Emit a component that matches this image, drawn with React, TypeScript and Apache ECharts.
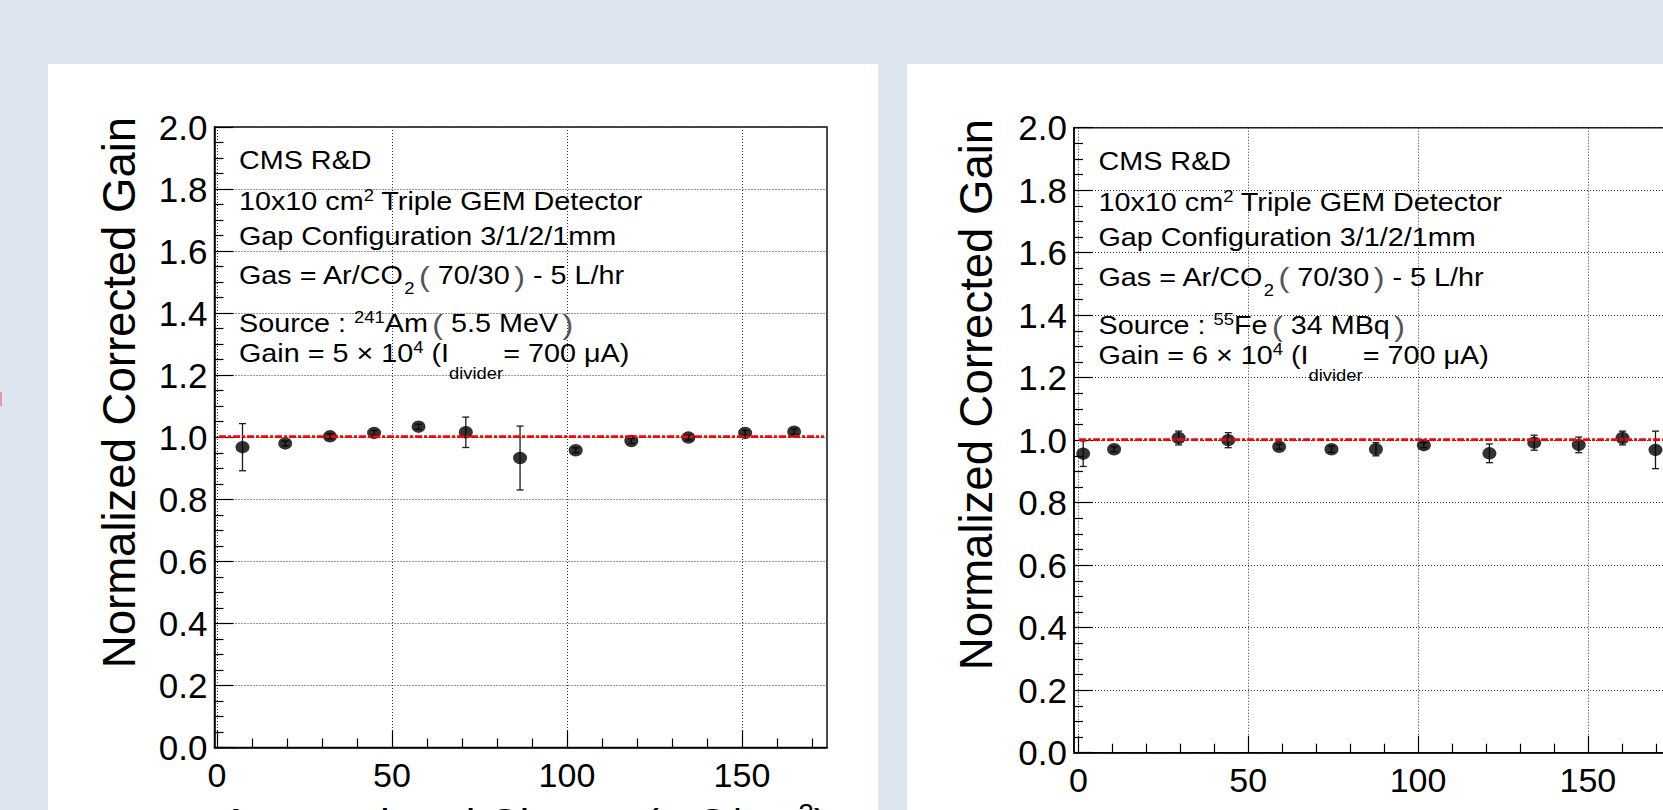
import React, { useEffect, useRef } from "react";
import * as echarts from "echarts";

// ---------------- data ----------------
const yAxisTitle = "Normalized Corrected Gain";
const xAxisTitleMain = "Accumulated Charge (mC/cm";
const xAxisTitleSup = "2";
const xAxisTitleEnd = ")";
const yRange = [0, 2];
const yTickStep = 0.2;
const xMajorTicks = [0, 50, 100, 150];
const xMinorTicks = [10, 20, 30, 40, 60, 70, 80, 90, 110, 120, 130, 140, 160, 170];

const leftXRange = [-0.7, 174.3];
const leftCharge = [7.3, 19.5, 32.3, 44.9, 57.6, 71.1, 86.6, 102.5, 118.4, 134.7, 150.9, 164.9];
const leftGain = [0.968, 0.98, 1.003, 1.014, 1.034, 1.016, 0.933, 0.958, 0.988, 0.999, 1.014, 1.018];
const leftErr = [0.076, 0.008, 0.008, 0.008, 0.008, 0.049, 0.103, 0.008, 0.008, 0.008, 0.008, 0.008];
const leftFit = 1.002;
const leftFitRange = [0.6, 173.4];

const rightXRange = [-1.3, 178];
const rightCharge = [1.4, 10.5, 29.5, 44.1, 59.1, 74.5, 87.6, 101.7, 121.0, 134.2, 147.3, 160.2, 169.9];
const rightGain = [0.957, 0.971, 1.007, 1.0, 0.979, 0.971, 0.971, 0.984, 0.958, 0.992, 0.985, 1.007, 0.969];
const rightErr = [0.041, 0.008, 0.022, 0.024, 0.008, 0.01, 0.021, 0.008, 0.03, 0.024, 0.025, 0.022, 0.06];
const rightFit = 1.002;
const rightFitRange = [0.2, 178];

type Seg = [string, "n" | "sup" | "sub" | "low" | "br" | "sp"];
const leftInfo: Seg[][] = [
  [["CMS R&D", "n"]],
  [["10x10 cm", "n"], ["2", "sup"], [" Triple GEM Detector", "n"]],
  [["Gap Configuration 3/1/2/1mm", "n"]],
  [["Gas = Ar/CO", "n"], ["2", "sub"], [" ", "sp"], ["(", "br"], [" 70/30", "n"], [" ", "sp"], [")", "br"], [" - 5 L/hr", "n"]],
  [["Source : ", "n"], ["241", "sup"], ["Am", "n"], [" ", "sp"], ["(", "br"], [" 5.5 MeV", "n"], [" ", "sp"], [")", "br"]],
  [["Gain = 5 × 10", "n"], ["4", "sup"], [" (I", "n"], ["divider", "low"], ["= 700 μA)", "n"]],
];
const rightInfo: Seg[][] = [
  [["CMS R&D", "n"]],
  [["10x10 cm", "n"], ["2", "sup"], [" Triple GEM Detector", "n"]],
  [["Gap Configuration 3/1/2/1mm", "n"]],
  [["Gas = Ar/CO", "n"], ["2", "sub"], [" ", "sp"], ["(", "br"], [" 70/30", "n"], [" ", "sp"], [")", "br"], [" - 5 L/hr", "n"]],
  [["Source : ", "n"], ["55", "sup"], ["Fe", "n"], [" ", "sp"], ["(", "br"], [" 34 MBq", "n"], [" ", "sp"], [")", "br"]],
  [["Gain = 6 × 10", "n"], ["4", "sup"], [" (I", "n"], ["divider", "low"], ["= 700 μA)", "n"]],
];

// ---------------- layout / style ----------------
const FONT = '"Liberation Sans", Arial, Helvetica, sans-serif';
const BG = "#dce5f0";
const LEFT_GRID = { left: 214.5, top: 127, width: 612.5, height: 620.5 };
const RIGHT_GRID = { left: 1074, top: 127.7, width: 609, height: 625 };
const INFO_BASELINES = [42, 83, 118, 157, 205, 235];
const INFO_DX = 24.5;
const SX = 1.15;
const SEG_STYLE: Record<string, { fs: number; dy: number; fill: string }> = {
  n: { fs: 25, dy: 0, fill: "#000" },
  sup: { fs: 16, dy: -9.5, fill: "#000" },
  sub: { fs: 16, dy: 10, fill: "#000" },
  low: { fs: 16, dy: 17, fill: "#000" },
  br: { fs: 28, dy: 1.5, fill: "#555" },
  sp: { fs: 14, dy: 0, fill: "#000" },
};
const Y_TITLE_POS = [
  [119.5, 392.5],
  [976, 394.5],
];

let measureCtx: CanvasRenderingContext2D | null = null;
function measure(text: string, fs: number) {
  if (!measureCtx) measureCtx = document.createElement("canvas").getContext("2d");
  measureCtx!.font = `${fs}px "Liberation Sans", Arial, sans-serif`;
  return measureCtx!.measureText(text).width;
}

function infoElements(lines: Seg[][], grid: typeof LEFT_GRID) {
  const scale = grid.height / LEFT_GRID.height;
  const els: any[] = [];
  lines.forEach((segs, li) => {
    const base = grid.top + INFO_BASELINES[li] * scale;
    let x = grid.left + INFO_DX;
    segs.forEach(([t, k]) => {
      const st = SEG_STYLE[k];
      if (k !== "sp") {
        els.push({
          type: "text",
          x,
          y: base + st.dy - 0.3465 * st.fs,
          scaleX: SX,
          z: 50,
          silent: true,
          style: {
            text: t,
            fontSize: st.fs,
            fontFamily: FONT,
            fill: st.fill,
            align: "left",
            verticalAlign: "middle",
            textAlign: "left",
            textVerticalAlign: "middle",
          },
        });
      }
      x += measure(t, st.fs) * SX;
    });
  });
  return els;
}

function yTitleElements() {
  return Y_TITLE_POS.map(([x, y]) => ({
    type: "text",
    x,
    y,
    rotation: Math.PI / 2,
    z: 50,
    silent: true,
    style: {
      text: yAxisTitle,
      fontSize: 45.5,
      fontFamily: FONT,
      fill: "#000",
      align: "center",
      verticalAlign: "middle",
      textAlign: "center",
      textVerticalAlign: "middle",
    },
  }));
}

const axisLineStyle = { color: "#000", width: 1.5 };
const tickLineStyle = { color: "#000", width: 1.2 };
const gridLineStyle = { color: "#333", width: 1, type: [1, 2] as any };

function xAxes(gridIndex: number, xr: number[], nameGap: number) {
  return [
    {
      type: "value",
      gridIndex,
      min: xr[0],
      max: xr[1],
      position: "bottom",
      axisLine: { show: true, onZero: false, lineStyle: axisLineStyle },
      axisTick: { show: true, inside: true, length: 17, customValues: xMajorTicks, lineStyle: tickLineStyle },
      axisLabel: { show: true, customValues: xMajorTicks, fontSize: 34, color: "#000", fontFamily: FONT, margin: 10 },
      splitLine: { show: true, lineStyle: gridLineStyle },
      name: `{t|${xAxisTitleMain}}{s|${xAxisTitleSup}}{t|${xAxisTitleEnd}}`,
      nameLocation: "middle",
      nameGap,
      nameTextStyle: {
        fontSize: 44,
        fontFamily: FONT,
        color: "#000",
        padding: [0, 0, 0, 8],
        rich: {
          t: { fontSize: 44, fontFamily: FONT, color: "#000", lineHeight: 50 },
          s: { fontSize: 28, fontFamily: FONT, color: "#000", verticalAlign: "top", lineHeight: 28 },
        },
      },
    },
    {
      type: "value",
      gridIndex,
      min: xr[0],
      max: xr[1],
      position: "bottom",
      axisLine: { show: false, onZero: false },
      axisTick: { show: true, inside: true, length: 9, customValues: xMinorTicks, lineStyle: tickLineStyle },
      axisLabel: { show: false },
      splitLine: { show: false },
    },
  ];
}

function yAxis(gridIndex: number) {
  return {
    type: "value",
    gridIndex,
    min: yRange[0],
    max: yRange[1],
    interval: yTickStep,
    position: "left",
    axisLine: { show: true, onZero: false, lineStyle: axisLineStyle },
    axisTick: { show: true, inside: true, length: 19, lineStyle: tickLineStyle },
    minorTick: { show: true, splitNumber: 4, length: 9, lineStyle: tickLineStyle },
    axisLabel: {
      fontSize: 35,
      color: "#000",
      fontFamily: FONT,
      margin: 7,
      formatter: (v: number) => v.toFixed(1),
    },
    splitLine: { show: true, lineStyle: gridLineStyle },
  };
}

const MARKER = "path://M0 5a5 5 0 1 0 10 0a5 5 0 1 0 -10 0z";

function errorRender(params: any, api: any) {
  const x = api.value(0);
  const y = api.value(1);
  const e = api.value(2);
  const top = api.coord([x, y + e]);
  const bot = api.coord([x, y - e]);
  const cap = 3.5;
  const style = { stroke: "#1a1a1a", lineWidth: 1.3 };
  return {
    type: "group",
    children: [
      { type: "line", shape: { x1: top[0], y1: top[1], x2: bot[0], y2: bot[1] }, style },
      { type: "line", shape: { x1: top[0] - cap, y1: top[1], x2: top[0] + cap, y2: top[1] }, style },
      { type: "line", shape: { x1: bot[0] - cap, y1: bot[1], x2: bot[0] + cap, y2: bot[1] }, style },
    ],
  };
}

function panelSeries(xAxisIndex: number, yAxisIndex: number, xs: number[], ys: number[], es: number[], fit: number, fitRange: number[]) {
  return [
    {
      type: "custom",
      xAxisIndex,
      yAxisIndex,
      renderItem: errorRender,
      data: xs.map((x, i) => [x, ys[i], es[i]]),
      z: 3,
      silent: true,
    },
    {
      type: "scatter",
      xAxisIndex,
      yAxisIndex,
      symbol: MARKER,
      symbolSize: [14, 12.5],
      itemStyle: { color: "#000" },
      data: xs.map((x, i) => [x, ys[i]]),
      z: 4,
      silent: true,
    },
    {
      type: "line",
      xAxisIndex,
      yAxisIndex,
      showSymbol: false,
      symbol: "none",
      lineStyle: { color: "#ff0000", width: 2.7, type: [7, 2, 3, 2] as any },
      data: [
        [fitRange[0], fit],
        [fitRange[1], fit],
      ],
      z: 5,
      silent: true,
    },
  ];
}

function buildOption() {
  return {
    animation: false,
    textStyle: { fontFamily: FONT },
    grid: [
      { ...LEFT_GRID, show: true, backgroundColor: "#fff", borderColor: "#111", borderWidth: 1.5, containLabel: false },
      { ...RIGHT_GRID, show: true, backgroundColor: "#fff", borderColor: "#111", borderWidth: 1.5, containLabel: false },
    ],
    xAxis: [...xAxes(0, leftXRange, 52), ...xAxes(1, rightXRange, 60)],
    yAxis: [yAxis(0), yAxis(1)],
    series: [
      ...panelSeries(0, 0, leftCharge, leftGain, leftErr, leftFit, leftFitRange),
      ...panelSeries(2, 1, rightCharge, rightGain, rightErr, rightFit, rightFitRange),
    ],
    graphic: {
      elements: [...yTitleElements(), ...infoElements(leftInfo, LEFT_GRID), ...infoElements(rightInfo, RIGHT_GRID)],
    },
  };
}

export default function App() {
  const ref = useRef<HTMLDivElement>(null);
  useEffect(() => {
    const chart = echarts.init(ref.current!, null, { renderer: "svg" });
    chart.setOption(buildOption() as any);
    return () => chart.dispose();
  }, []);
  return (
    <div style={{ position: "fixed", left: 0, top: 0, width: 1663, height: 810, overflow: "hidden", background: BG }}>
      <div style={{ position: "absolute", left: 48, top: 64, width: 830, height: 800, background: "#fff" }} />
      <div style={{ position: "absolute", left: 907, top: 64, width: 900, height: 800, background: "#fff" }} />
      <div style={{ position: "absolute", left: 0, top: 392, width: 2, height: 14, background: "#e59aa4" }} />
      <div ref={ref} style={{ position: "absolute", left: 0, top: 0, width: 1720, height: 880 }} />
    </div>
  );
}
